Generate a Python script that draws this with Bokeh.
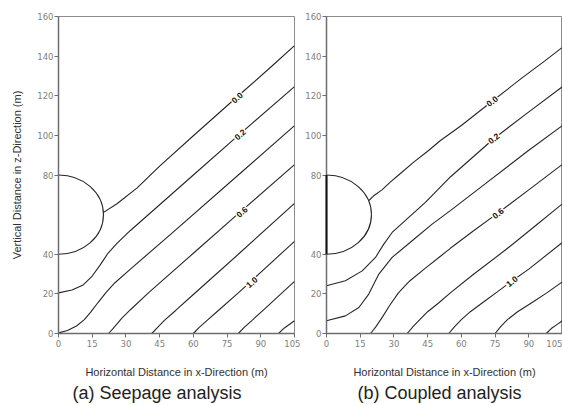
from bokeh.plotting import figure
from bokeh.layouts import row
from bokeh.models import Range1d, FixedTicker, Title
from bokeh.embed import file_html
from bokeh.resources import INLINE

# ---------------- data ----------------
x_ticks = [0, 15, 30, 45, 60, 75, 90, 105]
y_ticks = [0, 20, 40, 80, 100, 120, 140, 160]

tunnel_x = [0]
tunnel_y = [60]
tunnel_diameter = [40]
tunnel_wall_y0 = [40]
tunnel_wall_y1 = [80]

# (a) Seepage analysis - equipotential lines
seep_A_x = [19.9, 26, 35, 45, 60, 80, 95, 105]
seep_A_y = [61, 65.5, 73.5, 84.5, 99.8, 120, 135, 145.3]
seep_B_x = [0, 6, 11, 15, 18.5, 22, 26, 32, 45, 60, 80, 105]
seep_B_y = [20.5, 22, 24.5, 29, 34.5, 40.5, 45.5, 52, 65, 80, 100, 124.6]
seep_C_x = [0, 4, 8, 11.5, 14.5, 17.5, 21, 25, 32, 50, 80, 105]
seep_C_y = [0.3, 1.5, 3.8, 7, 11, 15.5, 20.5, 25.5, 32.5, 50.2, 80, 104.9]
seep_D_x = [22.3, 25, 28, 32, 40, 60, 80, 105]
seep_D_y = [0, 3.5, 7.5, 12, 20.5, 40.5, 60.5, 85.2]
seep_E_x = [41.5, 44, 47, 52, 60, 80, 105]
seep_E_y = [0, 3, 6.5, 11.5, 19.7, 40, 65.7]
seep_F_x = [60, 62.5, 66, 71, 80, 105]
seep_F_y = [0, 3, 6.5, 11.5, 20.5, 46.5]
seep_G_x = [80, 82.5, 86, 91, 105]
seep_G_y = [0, 3, 6.5, 11.7, 26.3]
seep_H_x = [97.9, 100.5, 105]
seep_H_y = [0, 2.8, 6.4]

seep_label_x = [79.5, 80.8, 81.6, 86.0]
seep_label_y = [119.0, 100.4, 61.3, 25.8]
seep_label_text = ["0.0", "0.2", "0.6", "1.0"]

# (b) Coupled analysis - equipotential lines
coup_A_x = [18.7, 21, 24.7, 28.5, 32.1, 38.8, 45, 50.7, 60, 73.7, 87, 97, 105]
coup_A_y = [67, 69.5, 72.5, 76.5, 80, 86.5, 92, 97.4, 105, 117.2, 129, 137.5, 144.5]
coup_B_x = [0, 8.4, 15.9, 21.8, 25.5, 29.2, 36.6, 44, 55.1, 74.4, 89, 105]
coup_B_y = [24.1, 26.6, 31.6, 38.4, 45.1, 51, 58.6, 66.2, 79, 98.3, 111, 124.6]
coup_C_x = [0, 8.4, 14.4, 18.8, 23.3, 29.2, 38.1, 47, 55.1, 70, 90, 105]
coup_C_y = [6.4, 8.9, 13.1, 19.9, 30, 38.4, 46.8, 55.2, 62, 75, 92.5, 105]
coup_D_x = [19.6, 22, 25, 28, 32, 37, 44, 50.7, 55.1, 65, 76.5, 90, 105]
coup_D_y = [0, 3.5, 8.5, 14, 20.5, 26.5, 33, 39, 43, 51.5, 61, 72.5, 85.4]
coup_E_x = [35.9, 38.5, 41.5, 45, 50, 55.1, 65, 80, 92, 105]
coup_E_y = [0, 3.5, 7, 11, 15.5, 20.5, 29.5, 42.5, 53.5, 65.5]
coup_F_x = [54.4, 57, 60, 64, 70, 76, 82.5, 90, 105]
coup_F_y = [0, 3.5, 7, 11, 16, 21, 26.5, 32.5, 46]
coup_G_x = [75, 77.5, 80.5, 85, 92, 98, 105]
coup_G_y = [0, 3.5, 7, 11, 16, 20.5, 26.1]
coup_H_x = [97.8, 100, 102.5, 105]
coup_H_y = [0, 2.5, 4.5, 6.5]

coup_label_x = [73.7, 74.4, 76.3, 82.5]
coup_label_y = [117.2, 98.4, 60.6, 26.3]
coup_label_text = ["0.0", "0.2", "0.6", "1.0"]

captions = ["(a) Seepage analysis", "(b) Coupled analysis"]
x_title = "Horizontal Distance in x-Direction (m)"
y_title = "Vertical Distance in z-Direction (m)"

# ---------------- drawing ----------------
AXIS_GREY = "#6e6e6e"
LINE_COL = "#262626"


def make_panel(width, b_left, b_right, xs, ys, lx, ly, lt, angle, caption,
               cap_offset, with_ylabel, wall):
    p = figure(width=width, height=405, x_range=Range1d(0, 105),
               y_range=Range1d(0, 160), output_backend="svg",
               toolbar_location=None, min_border_left=b_left,
               min_border_right=b_right, min_border_top=16,
               min_border_bottom=72)
    p.xgrid.visible = False
    p.ygrid.visible = False
    p.outline_line_color = "#8c8c8c"
    p.outline_line_width = 1
    p.background_fill_color = "white"
    p.border_fill_color = "white"

    p.xaxis.ticker = FixedTicker(ticks=x_ticks)
    p.yaxis.ticker = FixedTicker(ticks=y_ticks)
    for ax in (p.xaxis[0], p.yaxis[0]):
        ax.axis_line_color = AXIS_GREY
        ax.axis_line_width = 1.5
        ax.major_tick_line_color = AXIS_GREY
        ax.major_tick_line_width = 1
        ax.major_tick_out = 4
        ax.major_tick_in = 0
        ax.minor_tick_line_color = None
        ax.major_label_text_font = "DejaVu Sans"
        ax.major_label_text_font_size = "8.5px"
        ax.major_label_text_color = "#808080"
        ax.axis_label_text_font = "Liberation Sans"
        ax.axis_label_text_font_size = "11px"
        ax.axis_label_text_font_style = "normal"
        ax.axis_label_text_color = "#303030"
    p.xaxis.major_label_standoff = 2
    p.yaxis.major_label_standoff = 1
    p.xaxis.axis_label = x_title
    p.xaxis.axis_label_standoff = 16
    if with_ylabel:
        p.yaxis.axis_label = y_title
        p.yaxis.axis_label_standoff = 11

    p.multi_line(xs=xs, ys=ys, line_color=LINE_COL, line_width=1.1)
    p.ellipse(x=tunnel_x, y=tunnel_y, width=tunnel_diameter,
              height=tunnel_diameter, fill_color=None, line_color=LINE_COL,
              line_width=1.1)
    if wall:
        p.segment(x0=tunnel_x, y0=tunnel_wall_y0, x1=tunnel_x,
                  y1=tunnel_wall_y1, line_color="#111111", line_width=2,
                  level="overlay")
    p.text(x=lx, y=ly, text=lt, angle=angle, text_align="center",
           text_baseline="middle", text_font_size="8.5px",
           text_font_style="bold", text_color="#111111",
           background_fill_color="white", padding=1)

    p.add_layout(Title(text=caption, text_font="Liberation Sans",
                       text_font_size="18px", text_font_style="normal",
                       text_color="#222222", align="left", offset=cap_offset,
                       standoff=0), "below")
    return p


seep_xs = [seep_A_x, seep_B_x, seep_C_x, seep_D_x, seep_E_x, seep_F_x,
           seep_G_x, seep_H_x]
seep_ys = [seep_A_y, seep_B_y, seep_C_y, seep_D_y, seep_E_y, seep_F_y,
           seep_G_y, seep_H_y]
coup_xs = [coup_A_x, coup_B_x, coup_C_x, coup_D_x, coup_E_x, coup_F_x,
           coup_G_x, coup_H_x]
coup_ys = [coup_A_y, coup_B_y, coup_C_y, coup_D_y, coup_E_y, coup_F_y,
           coup_G_y, coup_H_y]

p1 = make_panel(300, 58, 6, seep_xs, seep_ys, seep_label_x, seep_label_y,
                seep_label_text, 0.72, captions[0], 14, True, False)
p2 = make_panel(262, 26, 0, coup_xs, coup_ys, coup_label_x, coup_label_y,
                coup_label_text, 0.66, captions[1], 31, False, True)

layout = row(p1, p2)
open("out.html", "w").write(file_html(layout, INLINE))
